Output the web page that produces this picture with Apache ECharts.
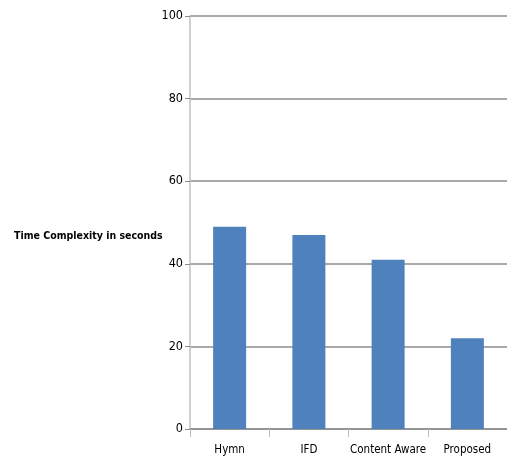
<!DOCTYPE html>
<html>
<head>
<meta charset="utf-8">
<script src="https://cdn.jsdelivr.net/npm/echarts@6/dist/echarts.min.js"></script>
<style>
  html, body { margin: 0; padding: 0; background: #fff; }
  #chart { width: 507px; height: 459px; }
</style>
</head>
<body>
<div id="chart"></div>
<script>
// Execution time per method
const methods = ['Hymn', 'IFD', 'Content Aware', 'Proposed'];
const timeSeconds = [49, 47, 41, 22];
const yTicks = [0, 20, 40, 60, 80, 100];
const axisTitle = 'Time Complexity in seconds';

const font = '"Arial Narrow", "DejaVu Sans Condensed", sans-serif';

const chart = echarts.init(document.getElementById('chart'), null, { renderer: 'canvas' });
chart.setOption({
  animation: false,
  backgroundColor: '#ffffff',
  title: {
    text: axisTitle,
    left: 9,
    top: 226,
    textStyle: { fontFamily: font, fontSize: 10.5, fontWeight: 'bold', color: '#000' }
  },
  grid: { left: 190, top: 16, width: 320, height: 413 },
  xAxis: {
    type: 'category',
    data: methods,
    axisLine: { lineStyle: { color: '#8c8c8c', width: 1.5 } },
    axisTick: { show: true, length: 8, alignWithLabel: false, lineStyle: { color: '#bdbdbd' } },
    axisLabel: { interval: 0, fontFamily: font, fontSize: 11.5, color: '#000', margin: 15 }
  },
  yAxis: {
    type: 'value',
    min: yTicks[0],
    max: yTicks[yTicks.length - 1],
    interval: 20,
    axisLine: { show: true, lineStyle: { color: '#c0c0c0', width: 1.5 } },
    axisTick: { show: true, length: 5, lineStyle: { color: '#8c8c8c' } },
    axisLabel: { fontFamily: font, fontSize: 12.5, color: '#000', margin: 7 },
    splitLine: { show: true, lineStyle: { color: '#8c8c8c', width: 1.5 } }
  },
  series: [{
    type: 'bar',
    data: timeSeconds,
    barWidth: 33,
    itemStyle: { color: '#4f81bd' }
  }]
});
</script>
</body>
</html>
